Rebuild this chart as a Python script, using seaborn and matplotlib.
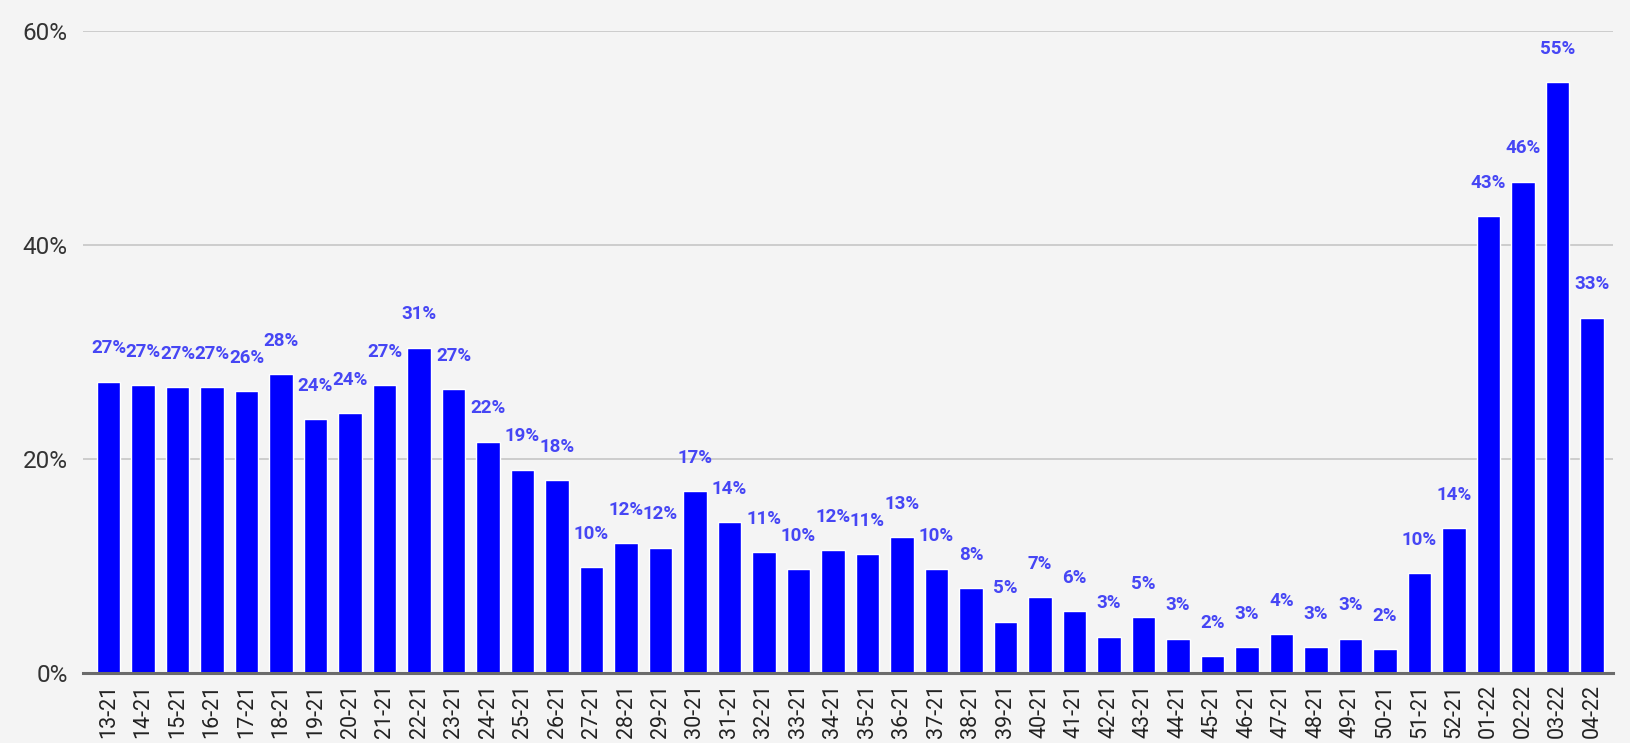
import matplotlib
matplotlib.use("Agg")
import matplotlib.pyplot as plt
import seaborn as sns
import pandas as pd
from matplotlib.ticker import FuncFormatter

weeks = ["13-21", "14-21", "15-21", "16-21", "17-21", "18-21", "19-21", "20-21",
         "21-21", "22-21", "23-21", "24-21", "25-21", "26-21", "27-21", "28-21",
         "29-21", "30-21", "31-21", "32-21", "33-21", "34-21", "35-21", "36-21",
         "37-21", "38-21", "39-21", "40-21", "41-21", "42-21", "43-21", "44-21",
         "45-21", "46-21", "47-21", "48-21", "49-21", "50-21", "51-21", "52-21",
         "01-22", "02-22", "03-22", "04-22"]
values = [27.2, 26.9, 26.7, 26.7, 26.3, 27.9, 23.7, 24.3,
          26.9, 30.4, 26.5, 21.6, 19.0, 18.0, 9.9, 12.1,
          11.7, 17.0, 14.1, 11.3, 9.7, 11.5, 11.1, 12.7,
          9.7, 7.9, 4.8, 7.1, 5.8, 3.4, 5.2, 3.2,
          1.6, 2.4, 3.6, 2.4, 3.2, 2.2, 9.3, 13.5,
          42.7, 45.9, 55.2, 33.2]
labels = ["27%", "27%", "27%", "27%", "26%", "28%", "24%", "24%",
          "27%", "31%", "27%", "22%", "19%", "18%", "10%", "12%",
          "12%", "17%", "14%", "11%", "10%", "12%", "11%", "13%",
          "10%", "8%", "5%", "7%", "6%", "3%", "5%", "3%",
          "2%", "3%", "4%", "3%", "3%", "2%", "10%", "14%",
          "43%", "46%", "55%", "33%"]
y_ticks = [0, 20, 40, 60]

df = pd.DataFrame({"week": weeks, "value": values})

sns.set_style("white")
plt.rcParams["font.family"] = ["Roboto", "DejaVu Sans"]

BG = "#f4f4f4"
fig = plt.figure(figsize=(16.31, 7.43), dpi=100, facecolor=BG)
ax = fig.add_axes([83 / 1631, 70 / 743, (1613 - 83) / 1631, (673 - 30.7) / 743])
ax.set_facecolor(BG)

sns.barplot(data=df, x="week", y="value", color="#0000ff", saturation=1,
            width=0.67, ax=ax, zorder=3)

ax.set_xlim(-0.74, len(weeks) - 1 + 0.61)
ax.set_ylim(0, 60)
ax.set_yticks(y_ticks)
ax.yaxis.set_major_formatter(FuncFormatter(lambda v, p: f"{v:.0f}%"))
ax.grid(axis="y", color="#cccccc", linewidth=1.4, zorder=0)
ax.grid(axis="x", visible=False)
for s in ["top", "right", "left"]:
    ax.spines[s].set_visible(False)
ax.spines["bottom"].set_color("#6b6b6b")
ax.spines["bottom"].set_linewidth(2.2)
ax.spines["bottom"].set_zorder(4)

ax.tick_params(axis="y", length=0, pad=11, labelsize=17.5, labelcolor="#333333")
ax.tick_params(axis="x", length=0, pad=8, labelcolor="#222222")
ax.set_xlabel("")
ax.set_ylabel("")
for t in ax.get_xticklabels():
    t.set_rotation(90)
    t.set_fontsize(15.5)
    t.set_va("top")
    t.set_ha("center")

for i, (v, lab) in enumerate(zip(values, labels)):
    ax.annotate(lab, (i, v), xytext=(0, 24), textcoords="offset points",
                ha="center", va="center", fontsize=13.5, color="#4646f4",
                fontweight="bold", zorder=5)

fig.savefig("out.png", dpi=100, facecolor=BG)
